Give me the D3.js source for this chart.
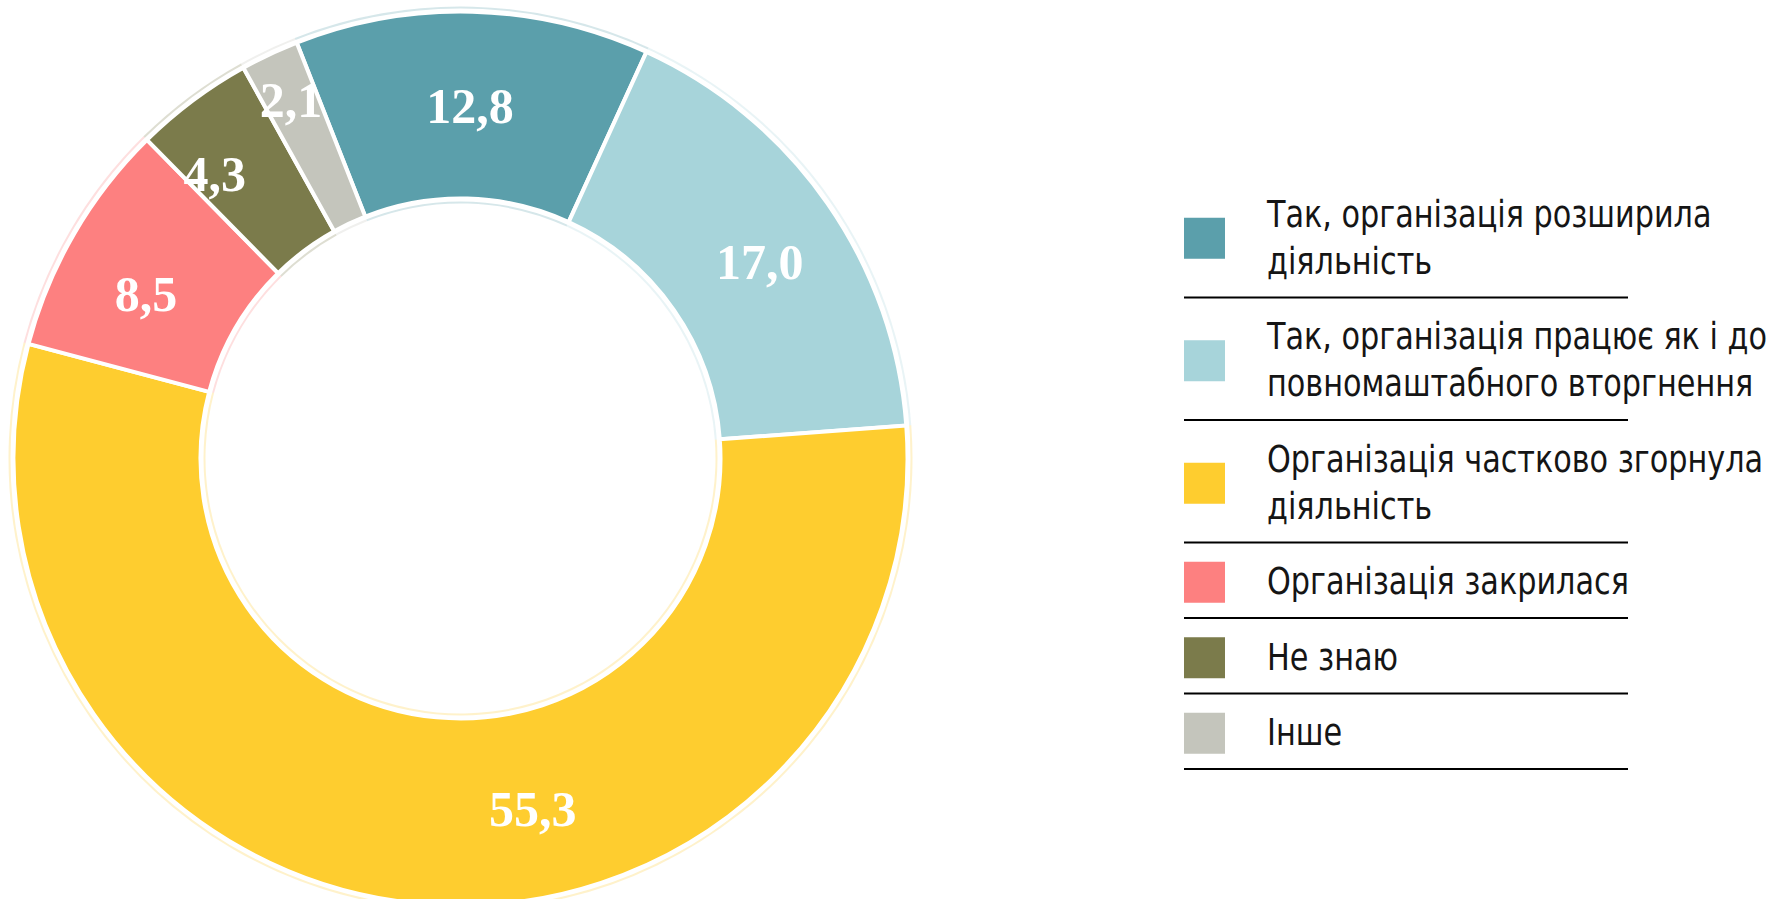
<!DOCTYPE html>
<meta charset="utf-8">
<script src="https://d3js.org/d3.v7.min.js"></script>
<style>
body { margin: 0; background: #fff; }
.legend-text { font-family: "DejaVu Sans Condensed", "DejaVu Sans", sans-serif; font-size: 37px; fill: #151515; }
.slice-label { font-family: "Liberation Serif", serif; font-weight: bold; font-size: 50px; fill: #fff; }
</style>
<div id="chart"></div>
<script>

// data
var categories = [
  ["Так, організація розширила", "діяльність"],
  ["Так, організація працює як і до", "повномаштабного вторгнення"],
  ["Організація частково згорнула", "діяльність"],
  ["Організація закрилася"],
  ["Не знаю"],
  ["Інше"]
];
var values = [12.8, 17.0, 55.3, 8.5, 4.3, 2.1];
var valueLabels = ["12,8", "17,0", "55,3", "8,5", "4,3", "2,1"];
var colors = ["#5b9fab", "#a7d4da", "#fecd2f", "#fd8080", "#7b7b4b", "#c4c5bc"];

var width = 1785, height = 899;
var cx = 460.5, cy = 458.5;
var rInner = 260, rOuter = 447;

var svg = d3.select("#chart")
  .append("svg")
    .attr("width", width)
    .attr("height", height);

var g = svg.append("g")
  .attr("transform", "translate(" + cx + "," + cy + ")");

var start = -21.5 * Math.PI / 180;
var pie = d3.pie().sort(null).startAngle(start).endAngle(start + 2 * Math.PI);
var arcs = pie(values);

// faint halo round the ring
var halo = d3.arc().innerRadius(rInner - 5).outerRadius(rOuter + 5);
var gap = d3.arc().innerRadius(rInner - 3).outerRadius(rOuter + 3);
g.selectAll(".halo")
  .data(arcs)
  .enter()
  .append("path")
    .attr("d", halo)
    .style("fill", function(d, i) { return colors[i]; })
    .style("opacity", 0.25);
g.append("path")
  .attr("d", gap({startAngle: 0, endAngle: 2 * Math.PI}))
  .style("fill", "#fff");

// slices
var arc = d3.arc().innerRadius(rInner).outerRadius(rOuter);
g.selectAll(".slice")
  .data(arcs)
  .enter()
  .append("path")
    .attr("class", "slice")
    .attr("d", arc)
    .style("fill", function(d, i) { return colors[i]; })
    .style("stroke", "#fff")
    .style("stroke-width", 4);

// labels: small slices get pushed outward, big one nudged
var labelRadius = [353, 358, 357, 355, 376, 397];
var labelTurn = [0, 1.5, -17, -2.5, -4, 0];
g.selectAll(".slice-label")
  .data(arcs)
  .enter()
  .append("text")
    .attr("class", "slice-label")
    .attr("text-anchor", "middle")
    .attr("dy", "0.35em")
    .attr("x", function(d, i) {
      var a = (d.startAngle + d.endAngle) / 2 + labelTurn[i] * Math.PI / 180;
      return Math.sin(a) * labelRadius[i];
    })
    .attr("y", function(d, i) {
      var a = (d.startAngle + d.endAngle) / 2 + labelTurn[i] * Math.PI / 180;
      return -Math.cos(a) * labelRadius[i];
    })
    .text(function(d, i) { return valueLabels[i]; });

// legend
var legX = 1184, textX = 1267, lineEnd = 1628;
var lineH = 47, rowPad = 28.5, sq = 41;
var squeeze = 0.91;   // no narrow font installed, so compress a bit
var rowTop = 175;
var legend = svg.append("g");
categories.forEach(function(lines, i) {
  var rowH = rowPad + lines.length * lineH;
  var mid = rowTop + rowH / 2 + 2;
  legend.append("rect")
    .attr("x", legX)
    .attr("y", mid - sq / 2)
    .attr("width", sq)
    .attr("height", sq)
    .style("fill", colors[i]);
  lines.forEach(function(t, j) {
    var ty = mid + 12 - (lines.length - 1) * lineH / 2 + j * lineH;
    legend.append("text")
      .attr("class", "legend-text")
      .attr("transform", "translate(" + textX + "," + ty + ") scale(" + squeeze + ",1)")
      .text(t);
  });
  rowTop += rowH;
  legend.append("line")
    .attr("x1", legX)
    .attr("x2", lineEnd)
    .attr("y1", rowTop)
    .attr("y2", rowTop)
    .attr("stroke", "#000")
    .attr("stroke-width", 2);
});

</script>
